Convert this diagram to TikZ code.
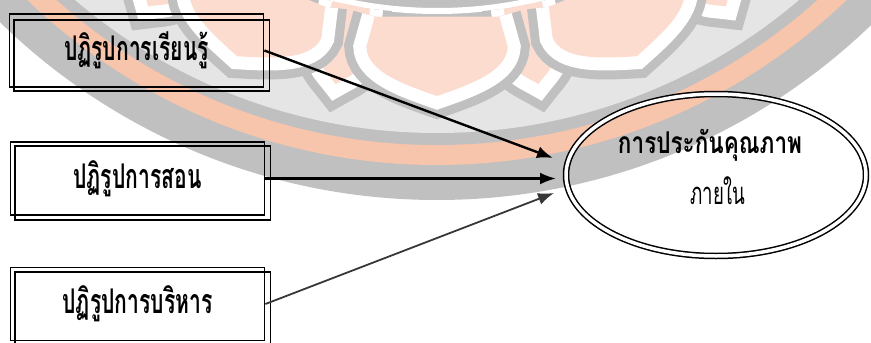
\documentclass[tikz,border=0pt]{standalone}
\usepackage{fontspec}
\newfontfamily\boxfont[Script=Thai,FakeStretch=0.62]{Loma}
\newfontfamily\efont[Script=Thai,FakeStretch=0.75]{Loma}
\newfontfamily\efontn[Script=Thai,FakeStretch=0.6]{Loma}
\usetikzlibrary{arrows.meta,shapes.geometric}
\definecolor{wmgray}{RGB}{192,192,192}
\definecolor{wmlight}{RGB}{229,229,229}
\definecolor{wmpeach}{RGB}{252,220,206}
\definecolor{wmstripe}{RGB}{247,196,172}
\definecolor{arrgray}{RGB}{55,55,55}
\tikzset{
 bigpetal/.style={insert path={({#1-8}:447) -- ({#1-8.5}:478) .. controls ({#1-8}:503) and ({#1-3.5}:512) .. (#1:522) .. controls ({#1+3.5}:512) and ({#1+8}:503) .. ({#1+8.5}:478) -- ({#1+8}:447)}},
 smallpetal/.style={insert path={({#1-2.5}:440) -- ({#1-2.8}:490) .. controls ({#1-2.5}:505) and ({#1-1}:512) .. (#1:520) .. controls ({#1+1}:512) and ({#1+2.5}:505) .. ({#1+2.8}:490) -- ({#1+2.5}:440)}},
 petalgray/.style={draw=wmgray, line width=44pt, miter limit=20},
 petalwhite/.style={draw=white, line width=26pt, miter limit=20},
 petalfill/.style={fill=wmpeach},
 box/.style={draw, line width=1.8pt, minimum width=254pt, minimum height=73pt, inner sep=0pt, font=\boxfont\bfseries\fontsize{34}{36}\selectfont},
 boxcopy/.style={draw, line width=1.8pt},
 arr/.style={-{Latex[length=16pt,width=12pt]}, line width=2.4pt},
 etext/.style={inner sep=0pt},
}
\begin{document}
\begin{tikzpicture}[x=1pt,y=-1pt]
\useasboundingbox (0,0) rectangle (871,343);
% faint watermark logo in the background
\begin{scope}
\clip (0,0) rectangle (871,343);
\fill[wmgray] (437,-426) circle[radius=626pt];
\fill[wmstripe] (437,-426) circle[radius=591pt];
\fill[wmgray] (437,-426) circle[radius=571pt];
\fill[wmlight] (437,-426) circle[radius=559pt];
\fill[wmgray] (437,-426) circle[radius=452pt];
\draw[white, line width=6pt] (437,-426) circle[radius=437pt];
\begin{scope}[shift={(437,-426)}]
\foreach \a in {33.75,56.25,78.75,101.25,123.75,146.25} \path[petalgray, smallpetal=\a];
\foreach \a in {33.75,56.25,78.75,101.25,123.75,146.25} \path[petalwhite, smallpetal=\a];
\foreach \a in {33.75,56.25,78.75,101.25,123.75,146.25} \path[petalfill, smallpetal=\a];
\foreach \a in {45,67.5,90,112.5,135} \path[petalgray, bigpetal=\a];
\foreach \a in {45,67.5,90,112.5,135} \path[petalwhite, bigpetal=\a];
\foreach \a in {45,67.5,90,112.5,135} \path[petalfill, bigpetal=\a];
\end{scope}
\end{scope}
% boxes
\node[box] (b1) at (136.5,50.5) {ปฏิรูปการเรียนรู้};
\draw[boxcopy] ([shift={(5,7)}]b1.north west) rectangle ([shift={(5,3)}]b1.south east);
\node[box] (b2) at (137.5,178.5) {ปฏิรูปการสอน};
\draw[boxcopy] ([shift={(5,5)}]b2.north west) rectangle ([shift={(5,4)}]b2.south east);
\node[box] (b3) at (137.5,304) {ปฏิรูปการบริหาร};
\draw[boxcopy] ([shift={(5,5)}]b3.north west) rectangle ([shift={(5,5)}]b3.south east);
% ellipse
\node[draw, ellipse, double, line width=1.5pt, double distance=3.5pt, minimum width=300pt, minimum height=162pt, inner sep=0pt] (e) at (716,175) {};
\node[etext, font=\efont\bfseries\fontsize{30}{32}\selectfont] (e1) at (710,145) {การประกันคุณภาพ};
\node[etext, font=\efontn\fontsize{31}{33}\selectfont] (e2) at (718,191) {ภายใน};
% arrows
\coordinate (t1) at (553,158);
\coordinate (t2) at (556,178.5);
\coordinate (t3) at (554,193);
\draw[arr] (b1.east) -- (t1);
\draw[arr] (b2.east) -- (t2);
\draw[arr, draw=arrgray, line width=1.8pt] (b3.east) -- (t3);
\end{tikzpicture}
\end{document}
